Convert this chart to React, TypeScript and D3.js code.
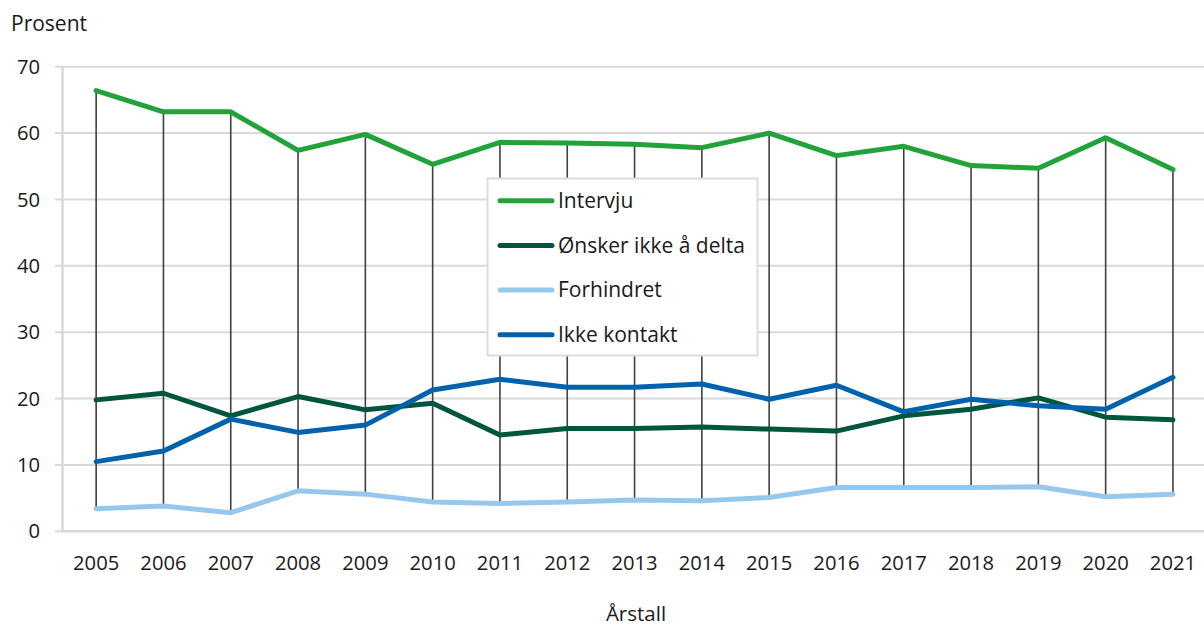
import React from "react";
import * as d3 from "d3";

const years = [2005,2006,2007,2008,2009,2010,2011,2012,2013,2014,2015,2016,2017,2018,2019,2020,2021];
const intervju = [66.4,63.2,63.2,57.4,59.8,55.3,58.6,58.5,58.3,57.8,60.0,56.6,58.0,55.1,54.7,59.3,54.5];
const onsker = [19.8,20.8,17.4,20.3,18.3,19.3,14.5,15.5,15.5,15.7,15.4,15.1,17.4,18.4,20.1,17.2,16.8];
const forhindret = [3.4,3.8,2.8,6.1,5.6,4.4,4.2,4.4,4.7,4.6,5.1,6.6,6.6,6.6,6.7,5.2,5.6];
const ikkeKontakt = [10.5,12.1,16.9,14.9,16.0,21.3,22.9,21.7,21.7,22.2,19.9,22.0,18.0,19.9,18.9,18.4,23.2];
const yTicks = [0,10,20,30,40,50,60,70];

const seriesNames = ["Intervju","Ønsker ikke å delta","Forhindret","Ikke kontakt"];
const seriesValues = [intervju, onsker, forhindret, ikkeKontakt];
const seriesColors = ["#22a33a","#00553f","#96c8ee","#0062ad"];

export default function App() {
  const W = 1204, H = 628;
  const left = 62.5, bandW = 67.3;
  const x = d3.scaleBand<number>().domain(years).range([left, left + bandW * years.length]);
  const y = d3.scaleLinear().domain([0, 70]).range([531.3, 66.7]);
  const cx = (yr: number) => (x(yr) as number) + x.bandwidth() / 2;
  const font = "'Open Sans', 'Noto Sans', sans-serif";
  const line = d3.line<number>().x((_, i) => cx(years[i])).y(d => y(d));
  const gridRight = W + 2;

  return (
    <svg width={W} height={H} style={{ position: "absolute", left: 0, top: 0 }} fontFamily={font}>
      <rect width={W} height={H} fill="#fff" />
      <text x={11} y={31} fontSize={21} fill="#1a1a1a">Prosent</text>
      {yTicks.map(t => (
        <g key={t}>
          {t > 0 && <line x1={left} x2={gridRight} y1={y(t)} y2={y(t)} stroke="#d9d9d9" strokeWidth={2} />}
          <line x1={55} x2={left} y1={y(t)} y2={y(t)} stroke="#d9d9d9" strokeWidth={2} />
          <text x={40} y={y(t)} dy="0.35em" textAnchor="end" fontSize={20.2} fill="#1a1a1a">{t}</text>
        </g>
      ))}
      <line x1={left} x2={gridRight} y1={y(0)} y2={y(0)} stroke="#d9d9d9" strokeWidth={2.5} />
      <line x1={left} x2={left} y1={y(70)} y2={y(0) + 1} stroke="#d9d9d9" strokeWidth={2.5} />
      {years.map((yr, i) => {
        const vals = seriesValues.map(s => s[i]);
        return (
          <line key={yr} x1={cx(yr)} x2={cx(yr)} y1={y(d3.max(vals) as number)} y2={y(d3.min(vals) as number)}
            stroke="#404040" strokeWidth={1.6} />
        );
      })}
      {seriesValues.map((s, k) => (
        <path key={k} d={line(s) as string} fill="none" stroke={seriesColors[k]} strokeWidth={5}
          strokeLinejoin="round" strokeLinecap="round" />
      ))}
      {years.map(yr => (
        <text key={yr} x={cx(yr)} y={570} textAnchor="middle" fontSize={20.2} fill="#1a1a1a">{yr}</text>
      ))}
      <text x={636} y={621} textAnchor="middle" fontSize={20.5} fill="#1a1a1a">Årstall</text>
      <g>
        <rect x={487.5} y={178.5} width={270} height={177} fill="#fff" stroke="#dcdcdc" strokeWidth={2} />
        {seriesNames.map((n, k) => {
          const ly = 200.7 + k * 44.7;
          return (
            <g key={n}>
              <line x1={500} x2={552} y1={ly} y2={ly} stroke={seriesColors[k]} strokeWidth={5} strokeLinecap="round" />
              <text x={558} y={ly} dy="0.35em" fontSize={21} fill="#1a1a1a">{n}</text>
            </g>
          );
        })}
      </g>
    </svg>
  );
}
